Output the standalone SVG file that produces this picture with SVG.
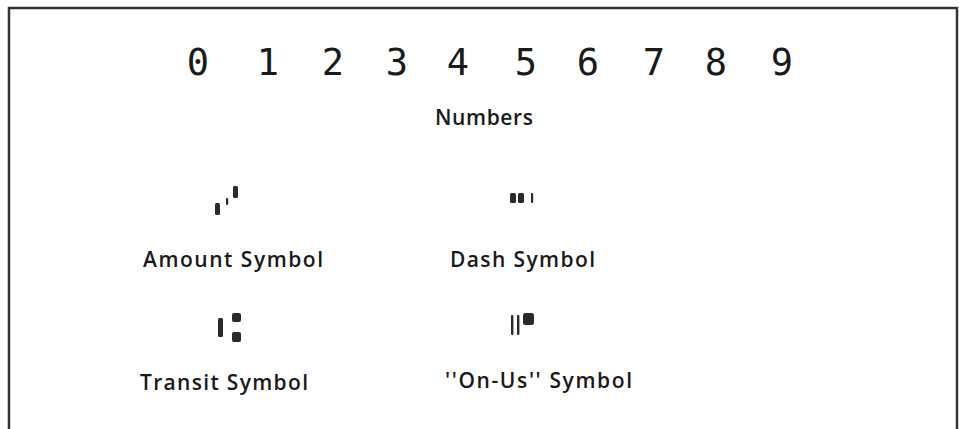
<svg xmlns="http://www.w3.org/2000/svg" width="959" height="429" viewBox="0 0 959 429">
<style>
.digit{font-family:"DejaVu Sans Mono","Liberation Mono",monospace;font-size:37px;fill:#1a1a1a;text-anchor:middle}
.label{font-family:"Open Sans","Liberation Sans",sans-serif;font-size:21px;font-weight:600;fill:#1a1a1a}
.ink{fill:#2a2a2a}
</style>
<rect width="959" height="429" fill="#ffffff"/>
<path d="M9,440 V8 H957 V440" fill="none" stroke="#333" stroke-width="2.5"/>
<g id="numbers">
<text class="digit" x="198" y="75">0</text>
<text class="digit" x="268" y="75">1</text>
<text class="digit" x="333" y="75">2</text>
<text class="digit" x="397" y="75">3</text>
<text class="digit" x="458" y="75">4</text>
<text class="digit" x="526" y="75">5</text>
<text class="digit" x="588" y="75">6</text>
<text class="digit" x="654" y="75">7</text>
<text class="digit" x="716" y="75">8</text>
<text class="digit" x="782" y="75">9</text>
<text class="label" x="435" y="125" textLength="98" lengthAdjust="spacing">Numbers</text>
</g>
<g id="amount">
<rect class="ink" x="215" y="203" width="5" height="12" rx="1.5"/>
<rect class="ink" x="226" y="198" width="2.2" height="7" rx="1"/>
<rect class="ink" x="233" y="186" width="5" height="12" rx="1.5"/>
<text class="label" x="143" y="267" textLength="180" lengthAdjust="spacing">Amount Symbol</text>
</g>
<g id="dash">
<rect class="ink" x="510" y="193" width="6" height="10" rx="1.5"/>
<rect class="ink" x="518" y="193" width="6" height="10" rx="1.5"/>
<rect class="ink" x="531" y="193" width="2.2" height="10" rx="1"/>
<text class="label" x="450" y="267" textLength="145" lengthAdjust="spacing">Dash Symbol</text>
</g>
<g id="transit">
<rect class="ink" x="218" y="318" width="5" height="19" rx="1.5"/>
<rect class="ink" x="232" y="313" width="9" height="9" rx="2"/>
<rect class="ink" x="232" y="332" width="9" height="10" rx="2"/>
<text class="label" x="140" y="390" textLength="168" lengthAdjust="spacing">Transit Symbol</text>
</g>
<g id="onus">
<rect class="ink" x="511" y="315" width="2.4" height="20" rx="1"/>
<rect class="ink" x="517" y="315" width="2.4" height="20" rx="1"/>
<rect class="ink" x="523" y="313" width="11" height="12" rx="2.5"/>
<text class="label" x="445" y="388" textLength="187" lengthAdjust="spacing">''On-Us'' Symbol</text>
</g>
</svg>
